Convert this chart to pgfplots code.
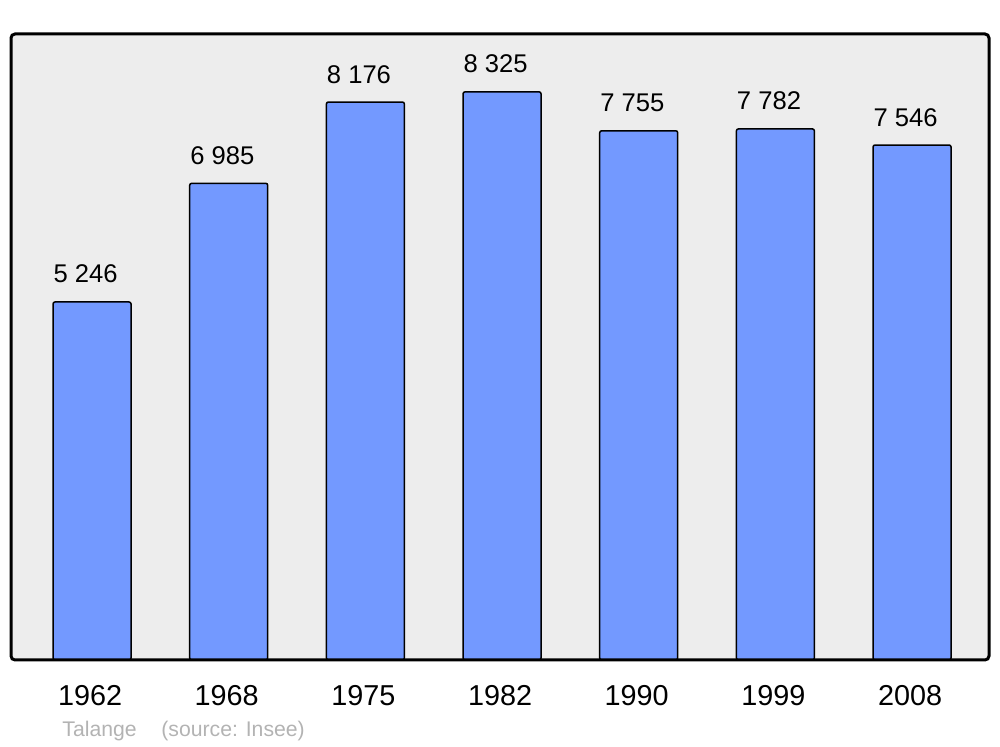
\documentclass[border=0pt]{standalone}
\usepackage{fontspec}
\setmainfont{Liberation Sans}
\usepackage{pgfplots}
\pgfplotsset{compat=1.18}
\definecolor{barblue}{HTML}{7399FF}
\definecolor{panel}{HTML}{EDEDED}
\definecolor{srcgray}{HTML}{B3B3B3}

\begin{document}
\begin{tikzpicture}
\useasboundingbox (-5.5pt,-43.5pt) rectangle (494.5pt,330pt);
\begin{axis}[
  scale only axis,
  width=489pt,
  height=313pt,
  xmin=-0.593, xmax=6.563,
  ymin=0, ymax=9173,
  clip=false,
  axis line style={draw=none},
  axis background/.style={fill=panel},
  ytick=\empty,
  xtick={0,1,2,3,4,5,6},
  xticklabels={1962,1968,1975,1982,1990,1999,2008},
  major tick length=0pt,
  xticklabel style={font=\fontsize{14.4pt}{16pt}\selectfont, inner sep=0pt, yshift=-12.5pt, xshift=-1pt},
  ybar,
  bar width=39pt,
  point meta=explicit symbolic,
  nodes near coords,
  every node near coord/.append style={font=\fontsize{12.8pt}{15pt}\selectfont, inner sep=0pt, anchor=south, yshift=9pt, xshift=-3.2pt},
]
\addplot[fill=barblue, draw=black, line width=0.75pt, rounded corners=1pt]
  coordinates {
    (0,5246) [5 246]
    (1,6985) [6 985]
    (2,8176) [8 176]
    (3,8325) [8 325]
    (4,7755) [7 755]
    (5,7782) [7 782]
    (6,7546) [7 546]
  };
\draw[line width=1.5pt, rounded corners=2pt] (rel axis cs:0,0) rectangle (rel axis cs:1,1);
\end{axis}
\node[anchor=base west, text=srcgray, inner sep=0pt, font=\fontsize{10.6pt}{12pt}\selectfont] at (25.5pt,-38.5pt) {Talange};
\node[anchor=base west, text=srcgray, inner sep=0pt, font=\fontsize{10.6pt}{12pt}\selectfont] at (75pt,-38.5pt) {(source: Insee)};
\end{tikzpicture}
\end{document}
